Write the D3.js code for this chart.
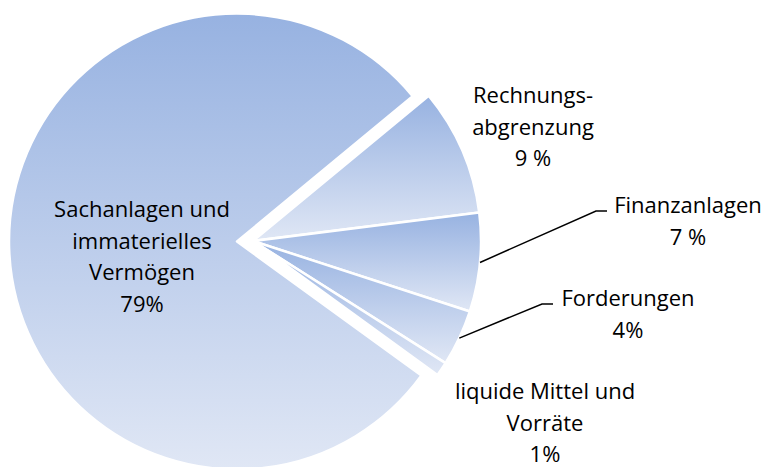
<!DOCTYPE html>
<html>
<head>
<meta charset="utf-8">
<script src="https://cdn.jsdelivr.net/npm/d3@7"></script>
<style>
  body { margin: 0; background: #fff; }
  text { font-family: "Open Sans", Lato, sans-serif; font-size: 22px; fill: #000; }
</style>
</head>
<body>
<div id="chart"></div>
<script>
// data
let categories = ["Sachanlagen und immaterielles Vermögen", "Rechnungsabgrenzung", "Finanzanlagen", "Forderungen", "liquide Mittel und Vorräte"]
let values = [79, 9, 7, 4, 1]
// label lines as shown in the chart
let labelLines = [
  ["Sachanlagen und", "immaterielles", "Vermögen", "79%"],
  ["Rechnungs-", "abgrenzung", "9 %"],
  ["Finanzanlagen", "7 %"],
  ["Forderungen", "4%"],
  ["liquide Mittel und", "Vorräte", "1%"]
]

let width = 766, height = 467
let cx = 253, cy = 241, radius = 228
let explode = [16, 0, 0, 0, 0]

// label anchor (centre x, first baseline y) and whether a leader line is drawn
let labelPos = [
  {x: 142, y: 217, leader: false},
  {x: 533, y: 103, leader: false},
  {x: 688, y: 213, leader: true, hx: 607},
  {x: 628, y: 306, leader: true, hx: 553},
  {x: 545, y: 399, leader: false}
]
let lineHeight = 31.5

let svg = d3.select("#chart").append("svg")
    .attr("width", width)
    .attr("height", height)

let defs = svg.append("defs")
let grad = defs.append("linearGradient")
    .attr("id", "sliceFill")
    .attr("x1", 0).attr("y1", 0).attr("x2", 0).attr("y2", 1)
grad.append("stop").attr("offset", "0%").attr("stop-color", "#97b2e1")
grad.append("stop").attr("offset", "100%").attr("stop-color", "#e0e7f5")

let pie = d3.pie()
    .sort(null)
    .value(d => d)
    .startAngle(126 * Math.PI / 180)
    .endAngle(126 * Math.PI / 180 + 2 * Math.PI)

let arc = d3.arc()
    .innerRadius(0)
    .outerRadius(radius)

let arcs = pie(values)

let g = svg.append("g")
    .attr("transform", "translate(" + cx + "," + cy + ")")

g.selectAll(".slice")
  .data(arcs)
  .enter().append("path")
    .attr("class", "slice")
    .attr("transform", (d, i) => {
      let a = (d.startAngle + d.endAngle) / 2
      return "translate(" + (Math.sin(a) * explode[i]) + "," + (-Math.cos(a) * explode[i]) + ")"
    })
    .attr("d", arc)
    .attr("fill", "url(#sliceFill)")
    .attr("stroke", "#fff")
    .attr("stroke-width", 2.5)
    .attr("stroke-linejoin", "round")

// leader lines
arcs.forEach((d, i) => {
  let p = labelPos[i]
  if (!p.leader) return
  let a = (d.startAngle + d.endAngle) / 2
  let x0 = cx + Math.sin(a) * radius, y0 = cy - Math.cos(a) * radius
  let ly = p.y - 2
  svg.append("polyline")
    .attr("points", [[x0, y0], [p.hx - 11, ly], [p.hx, ly]].map(q => q.join(",")).join(" "))
    .attr("fill", "none")
    .attr("stroke", "#000")
    .attr("stroke-width", 1.5)
})

// labels
labelLines.forEach((lines, i) => {
  let p = labelPos[i]
  let t = svg.append("text")
    .attr("text-anchor", "middle")
  lines.forEach((s, k) => {
    t.append("tspan")
      .attr("x", p.x)
      .attr("y", p.y + k * lineHeight)
      .text(s)
  })
})
</script>
</body>
</html>
